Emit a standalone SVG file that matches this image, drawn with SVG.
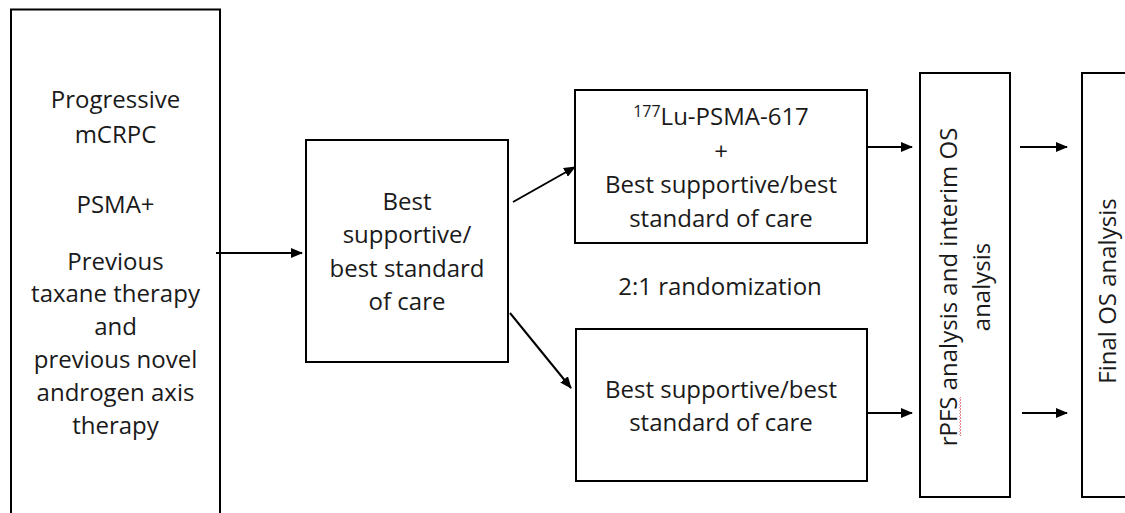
<svg xmlns="http://www.w3.org/2000/svg" width="1125" height="513" viewBox="0 0 1125 513">
<defs>
<marker id="ah" markerUnits="userSpaceOnUse" markerWidth="12" markerHeight="10" refX="11" refY="5" orient="auto"><path d="M0,0 L12,5 L0,10 Z" fill="#000"/></marker>
<style>
.box{fill:#fff;stroke:#000;stroke-width:2}
.t{font-family:"Open Sans","Liberation Sans",sans-serif;font-size:24px;fill:#1a1a1a;text-anchor:middle}
.c{stroke:#000;stroke-width:2;fill:none;marker-end:url(#ah)}
</style>
</defs>
<rect width="1125" height="513" fill="#fff"/>
<g id="n-patients">
<rect class="box" x="11" y="9.5" width="209" height="520"/>
<text class="t" x="115.5" y="108">Progressive</text>
<text class="t" x="115.5" y="143">mCRPC</text>
<text class="t" x="115.5" y="213">PSMA+</text>
<text class="t" x="115.5" y="270">Previous</text>
<text class="t" x="115.5" y="302">taxane therapy</text>
<text class="t" x="115.5" y="335">and</text>
<text class="t" x="115.5" y="368">previous novel</text>
<text class="t" x="115.5" y="401">androgen axis</text>
<text class="t" x="115.5" y="434">therapy</text>
</g>
<g id="n-bsc">
<rect class="box" x="306" y="140" width="202" height="222"/>
<text class="t" x="407" y="210">Best</text>
<text class="t" x="407" y="243">supportive/</text>
<text class="t" x="407" y="277">best standard</text>
<text class="t" x="407" y="310">of care</text>
</g>
<g id="n-lu">
<rect class="box" x="575" y="90" width="292" height="153"/>
<text class="t" x="721" y="125"><tspan font-size="16" dy="-8">177</tspan><tspan dy="8">Lu-PSMA-617</tspan></text>
<text class="t" x="721" y="160">+</text>
<text class="t" x="721" y="193">Best supportive/best</text>
<text class="t" x="721" y="227">standard of care</text>
</g>
<g id="n-rand">
<text class="t" x="720" y="295">2:1 randomization</text>
</g>
<g id="n-bsc2">
<rect class="box" x="576" y="329" width="291" height="152"/>
<text class="t" x="721" y="398">Best supportive/best</text>
<text class="t" x="721" y="431">standard of care</text>
</g>
<g id="n-rpfs">
<rect class="box" x="920" y="73" width="90" height="424"/>
<g transform="translate(957,287) rotate(-90)">
<text class="t" x="0" y="0">rPFS analysis and interim OS</text>
<path d="M-149,4 l1.5,-1.5 l1.5,1.5 l1.5,-1.5 l1.5,1.5 l1.5,-1.5 l1.5,1.5 l1.5,-1.5 l1.5,1.5 l1.5,-1.5 l1.5,1.5 l1.5,-1.5 l1.5,1.5 l1.5,-1.5 l1.5,1.5 l1.5,-1.5 l1.5,1.5 l1.5,-1.5 l1.5,1.5 l1.5,-1.5 l1.5,1.5 l1.5,-1.5 l1.5,1.5 l1.5,-1.5 l1.5,1.5 l1.5,-1.5 l1.5,1.5" fill="none" stroke="#e8707a" stroke-width="0.9"/>
</g>
<text class="t" transform="translate(990,287) rotate(-90)">analysis</text>
</g>
<g id="n-final">
<rect class="box" x="1082" y="73" width="60" height="424"/>
<text class="t" transform="translate(1116,291) rotate(-90)">Final OS analysis</text>
</g>
<g id="connectors">
<line class="c" x1="216" y1="253" x2="302" y2="253"/>
<line class="c" x1="513" y1="202" x2="575" y2="167"/>
<line class="c" x1="510" y1="313" x2="571" y2="388"/>
<line class="c" x1="867" y1="147" x2="912" y2="147"/>
<line class="c" x1="867" y1="413" x2="912" y2="413"/>
<line class="c" x1="1020" y1="147" x2="1067" y2="147"/>
<line class="c" x1="1022" y1="413" x2="1067" y2="413"/>
</g>
</svg>
